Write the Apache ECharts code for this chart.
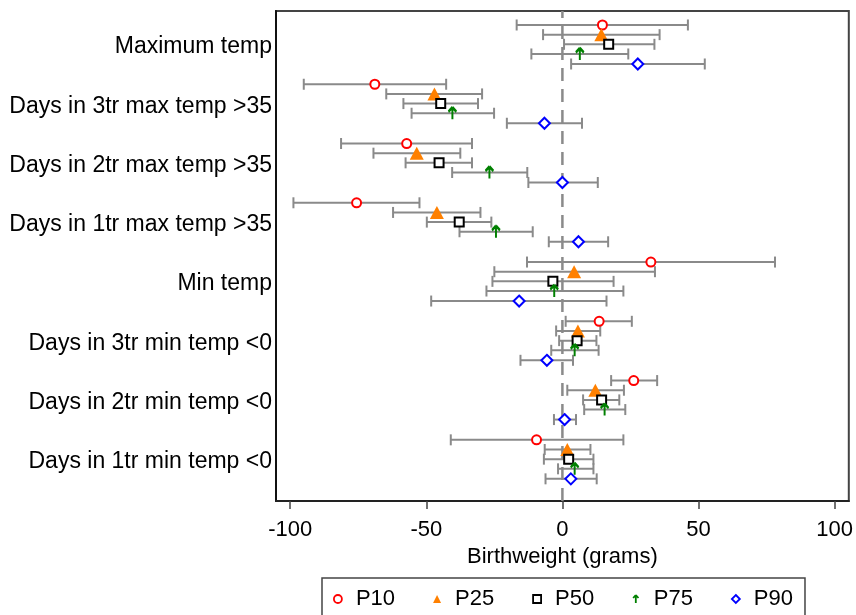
<!DOCTYPE html>
<html>
<head>
<meta charset="utf-8">
<script src="https://cdn.jsdelivr.net/npm/echarts@6/dist/echarts.min.js"></script>
<style>
html,body{margin:0;padding:0;background:#fff;}
#chart{width:856px;height:615px;}
</style>
</head>
<body>
<div id="chart"></div>
<script>
// Categories, top to bottom
const categories = [
  'Maximum temp',
  'Days in 3tr max temp >35',
  'Days in 2tr max temp >35',
  'Days in 1tr max temp >35',
  'Min temp',
  'Days in 3tr min temp <0',
  'Days in 2tr min temp <0',
  'Days in 1tr min temp <0'
];
const seriesNames = ['P10', 'P25', 'P50', 'P75', 'P90'];
const xTicks = [-100, -50, 0, 50, 100];

// Point estimates and 95% CI (grams)
const p10 = [14.7, -68.9, -57.2, -75.6, 32.5, 13.5, 26.2, -9.5];
const p10Lo = [-16.8, -95.0, -81.3, -98.8, -13.0, 1.2, 17.9, -41.0];
const p10Hi = [46.1, -42.7, -33.2, -52.5, 78.1, 25.5, 34.8, 22.4];

const p25 = [14.3, -47.0, -53.5, -46.1, 4.3, 5.7, 12.1, 1.8];
const p25Lo = [-7.1, -64.7, -69.4, -62.2, -25.0, -2.3, 1.8, -6.5];
const p25Hi = [35.7, -29.5, -37.5, -30.1, 34.0, 13.9, 22.6, 10.3];

const p50 = [17.0, -44.7, -45.3, -37.9, -3.5, 5.4, 14.4, 2.3];
const p50Lo = [0.6, -58.4, -57.6, -49.8, -25.7, -1.2, 7.6, -6.8];
const p50Hi = [33.8, -31.0, -33.2, -26.1, 18.8, 12.5, 20.9, 11.4];

const p75 = [6.4, -40.4, -26.8, -24.4, -3.0, 4.5, 15.5, 4.5];
const p75Lo = [-11.4, -55.4, -40.5, -37.8, -27.9, -4.1, 8.0, -1.6];
const p75Hi = [24.2, -25.1, -12.9, -10.9, 22.4, 13.3, 23.1, 11.4];

const p90 = [27.7, -6.6, 0.0, 5.9, -15.9, -5.7, 0.8, 3.1];
const p90Lo = [3.2, -20.4, -12.5, -5.0, -48.2, -15.4, -3.1, -6.2];
const p90Hi = [52.3, 7.2, 13.0, 16.8, 16.2, 3.9, 5.0, 12.6];

// vertical offsets of each percentile within a category row
const offsets = [0.371, 0.208, 0.045, -0.118, -0.287];

const est = [p10, p25, p50, p75, p90];
const lo = [p10Lo, p25Lo, p50Lo, p75Lo, p90Lo];
const hi = [p10Hi, p25Hi, p50Hi, p75Hi, p90Hi];

const arrowPath = 'path://M4,0 L0,4.5 M4,0 L8,4.5 M4,0 L4,12';
const markers = [
  {symbol: 'circle', size: 9, itemStyle: {color: '#fff', borderColor: '#ff0000', borderWidth: 2, opacity: 1}},
  {symbol: 'triangle', size: [14, 13], itemStyle: {color: '#ff8000', borderWidth: 0, opacity: 1}},
  {symbol: 'rect', size: 9, itemStyle: {color: '#fff', borderColor: '#000', borderWidth: 2, opacity: 1}},
  {symbol: arrowPath, size: [8, 12], itemStyle: {color: 'rgba(0,0,0,0)', borderColor: '#008000', borderWidth: 2.4, opacity: 1}},
  {symbol: 'diamond', size: 11, itemStyle: {color: '#fff', borderColor: '#0000ff', borderWidth: 2, opacity: 1}}
];

const nCat = categories.length;
const yMin = 0.339, yMax = 8.607;
const FONT = "'Liberation Sans', Arial, sans-serif";

function catPos(i) { return nCat - i; }

function renderBar(params, api) {
  const a = api.coord([api.value(0), api.value(2)]);
  const b = api.coord([api.value(1), api.value(2)]);
  const h = 5.5;
  const style = {stroke: '#8a8a8a', lineWidth: 2};
  return {
    type: 'group',
    children: [
      {type: 'line', shape: {x1: a[0], y1: a[1], x2: b[0], y2: b[1]}, style: style},
      {type: 'line', shape: {x1: a[0], y1: a[1] - h, x2: a[0], y2: a[1] + h}, style: style},
      {type: 'line', shape: {x1: b[0], y1: b[1] - h, x2: b[0], y2: b[1] + h}, style: style}
    ]
  };
}

const series = [];
series.push({
  type: 'line',
  name: 'zero',
  data: [[0, yMin], [0, yMax]],
  symbol: 'none',
  silent: true,
  z: 1,
  lineStyle: {color: '#8a8a8a', width: 2.5, type: [13, 8]}
});
for (let k = 0; k < 5; k++) {
  const barData = [];
  const ptData = [];
  for (let i = 0; i < nCat; i++) {
    const y = catPos(i) + offsets[k];
    barData.push([lo[k][i], hi[k][i], y]);
    ptData.push([est[k][i], y]);
  }
  series.push({
    type: 'custom',
    name: seriesNames[k] + ' CI',
    data: barData,
    renderItem: renderBar,
    encode: {x: [0, 1], y: 2},
    z: 2,
    silent: true
  });
  series.push({
    type: 'scatter',
    name: seriesNames[k],
    data: ptData,
    symbol: markers[k].symbol,
    symbolSize: markers[k].size,
    itemStyle: markers[k].itemStyle,
    z: 3
  });
}

const legendIcons = ['circle', 'triangle', 'rect', arrowPath, 'diamond'];
const legendData = seriesNames.map((n, k) => ({
  name: n,
  icon: legendIcons[k],
  itemStyle: Object.assign({}, markers[k].itemStyle, {borderWidth: k === 1 ? 0 : 1.8})
}));

const chart = echarts.init(document.getElementById('chart'), null, {renderer: 'canvas'});
chart.setOption({
  animation: false,
  backgroundColor: '#fff',
  textStyle: {fontFamily: FONT},
  grid: {
    left: 276, right: 7, top: 11, bottom: 114,
    show: true, borderColor: '#444', borderWidth: 2, backgroundColor: '#fff'
  },
  legend: {
    data: legendData,
    left: 322, top: 578,
    padding: [10, 12, 40, 11],
    itemWidth: 8, itemHeight: 8, itemGap: 38,
    borderColor: '#444', borderWidth: 1.5,
    textStyle: {fontSize: 22, color: '#000', fontFamily: FONT, padding: [0, 0, 0, 9]}
  },
  xAxis: {
    type: 'value',
    min: -105.2, max: 105.2,
    name: 'Birthweight (grams)',
    nameLocation: 'middle',
    nameGap: 37,
    nameTextStyle: {fontSize: 22, color: '#000', fontFamily: FONT},
    axisLine: {show: true, onZero: false, lineStyle: {color: '#222', width: 2}},
    axisTick: {show: true, length: 8, lineStyle: {color: '#444', width: 1.5}, customValues: xTicks},
    axisLabel: {fontSize: 22, color: '#000', margin: 18, customValues: xTicks, fontFamily: FONT},
    splitLine: {show: false}
  },
  yAxis: {
    type: 'value',
    min: yMin, max: yMax,
    axisLine: {show: true, onZero: false, lineStyle: {color: '#111', width: 2}},
    axisTick: {show: false, customValues: categories.map((c, i) => catPos(i))},
    axisLabel: {
      fontSize: 23, color: '#000', margin: 4, fontFamily: FONT,
      customValues: categories.map((c, i) => catPos(i)),
      formatter: function (v) { return categories[nCat - Math.round(v)]; }
    },
    splitLine: {show: false}
  },
  series: series
});
</script>
</body>
</html>
